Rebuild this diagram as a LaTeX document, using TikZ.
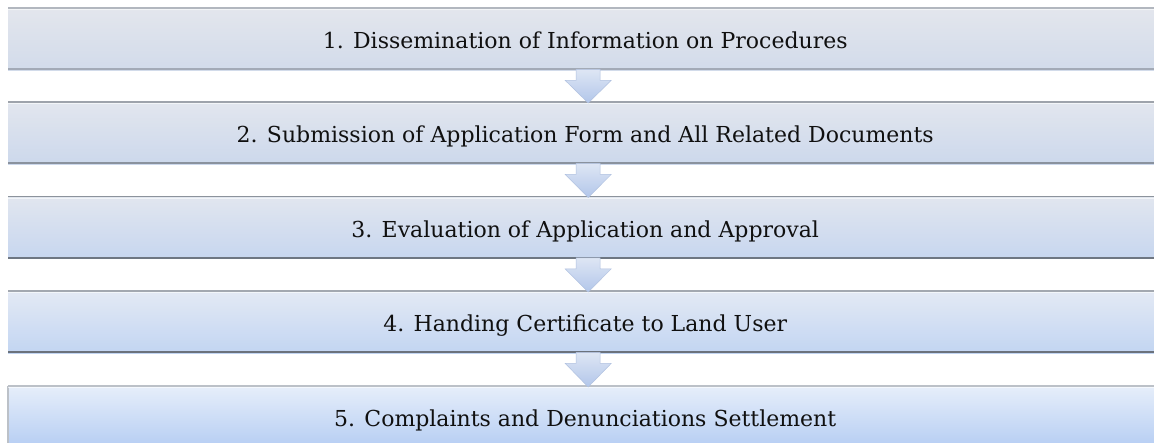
\documentclass[tikz,border=0pt]{standalone}
\usepackage{fontspec}
\setmainfont{DejaVu Serif}
\usetikzlibrary{calc}

% stage colours: light grey-blue at the top, turning bluer down the list
\definecolor{topA}{HTML}{E3E6ED}\definecolor{botA}{HTML}{D2DBEA}
\definecolor{topB}{HTML}{E2E6EE}\definecolor{botB}{HTML}{CCD8EC}
\definecolor{topC}{HTML}{E1E6EF}\definecolor{botC}{HTML}{C7D6EF}
\definecolor{topD}{HTML}{E3E9F4}\definecolor{botD}{HTML}{C2D5F2}
\definecolor{topE}{HTML}{E6EEFA}\definecolor{botE}{HTML}{B5CDF3}
\definecolor{rimA}{HTML}{B2B7BF}\definecolor{baseA}{HTML}{A3AAB6}
\definecolor{rimB}{HTML}{9EA3AB}\definecolor{baseB}{HTML}{8A929E}
\definecolor{rimC}{HTML}{8C939C}\definecolor{baseC}{HTML}{6E7682}
\definecolor{rimD}{HTML}{A3A8B0}\definecolor{baseD}{HTML}{6B727C}
\definecolor{rimE}{HTML}{BCC1C8}
\definecolor{stagetext}{HTML}{101010}
\definecolor{arrowtop}{HTML}{DEE6F4}\definecolor{arrowbot}{HTML}{B2C6EA}
\definecolor{arrowrim}{HTML}{B0C1E0}

\tikzset{
  stagebox/.style={rectangle, inner sep=0pt, minimum width=1154pt, minimum height=62pt,
    anchor=north west, text=stagetext, font=\fontsize{22}{26}\selectfont,
    text height=19pt, text depth=0pt},
  toprim/.style={line width=1.2pt},
  baserim/.style={line width=2.2pt},
  flowarrow/.style={top color=arrowtop, bottom color=arrowbot, draw=arrowrim, line width=0.5pt}
}

\begin{document}
\begin{tikzpicture}[x=1pt,y=-1pt]
  \path[use as bounding box, clip] (0,0) rectangle (1154,443);
  \fill[white] (0,0) rectangle (1154,443);

  % the five stages
  \node[stagebox, top color=topA, bottom color=botA] (s1) at (8,8)
    {1. Dissemination of Information on Procedures};
  \node[stagebox, top color=topB, bottom color=botB] (s2) at (8,102)
    {2. Submission of Application Form and All Related Documents};
  \node[stagebox, top color=topC, bottom color=botC] (s3) at (8,196.5)
    {3. Evaluation of Application and Approval};
  \node[stagebox, top color=topD, bottom color=botD] (s4) at (8,291)
    {4. Handing Certificate to Land User};
  \node[stagebox, top color=topE, bottom color=botE] (s5) at (8,386)
    {5. Complaints and Denunciations Settlement};

  % rims along the top and bottom edges
  \foreach \s/\r in {s1/rimA, s2/rimB, s3/rimC, s4/rimD}
    \draw[toprim, \r] (\s.north west) -- (\s.north east);
  \foreach \s/\r in {s1/baseA, s2/baseB, s3/baseC, s4/baseD}
    \draw[baserim, \r] ([yshift=1pt]\s.south west) -- ([yshift=1pt]\s.south east);
  \draw[line width=2pt, rimE] (s5.north west) -- (s5.north east);
  \draw[line width=1.2pt, rimE] (s5.north west) -- (s5.south west);
  \foreach \s in {s1,s2,s3,s4,s5}
    \draw[white, opacity=0.6, line width=1pt] ([yshift=-1.6pt]\s.north west) -- ([yshift=-1.6pt]\s.north east);

  % down arrows joining consecutive stages
  \foreach \a/\b in {s1/s2, s2/s3, s3/s4, s4/s5}
    \path[flowarrow] let \p1 = ($(\a.south)+(3,0)$), \p2 = (\b.north) in
      (\x1-12pt,\y1+1pt) -- (\x1+12pt,\y1+1pt) -- (\x1+12pt,\y1-10pt)
      -- (\x1+23pt,\y1-10pt) -- (\x1,\y2-1pt) -- (\x1-23pt,\y1-10pt)
      -- (\x1-12pt,\y1-10pt) -- cycle;
\end{tikzpicture}
\end{document}
